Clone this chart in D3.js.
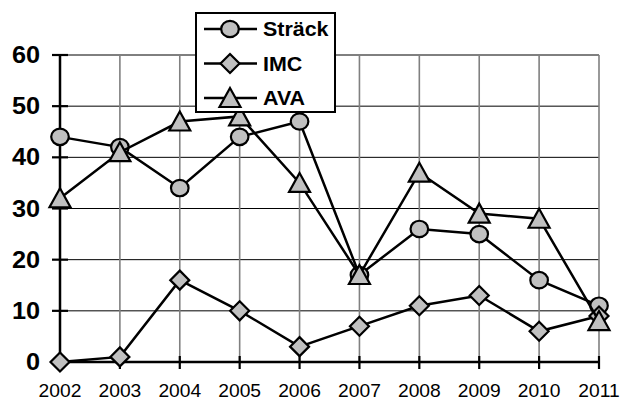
<!DOCTYPE html>
<html><head><meta charset="utf-8">
<script src="https://cdn.jsdelivr.net/npm/d3@7"></script>
<style>body{margin:0;background:#fff}svg{display:block}</style>
</head><body>
<svg id="c" width="620" height="400"></svg>
<script>
const years = ["2002","2003","2004","2005","2006","2007","2008","2009","2010","2011"];
const strack = [44,42,34,44,47,17,26,25,16,11];
const imc = [0,1,16,10,3,7,11,13,6,9];
const ava = [32,41,47,48,35,17,37,29,28,8];
const yTicks = [0,10,20,30,40,50,60];
const seriesNames = ["Sträck","IMC","AVA"];

const svg = d3.select("#c");
const x = d3.scalePoint().domain(years).range([60,599]);
const y = d3.scaleLinear().domain([0,60]).range([362,55]);
const SX = 1.1; // horizontal stretch of the reference

// gridlines
svg.append("g").selectAll("line").data(yTicks.filter(d=>d>0)).join("line")
  .attr("x1",60).attr("x2",599).attr("y1",d=>y(d)).attr("y2",d=>y(d))
  .attr("stroke","#000").attr("stroke-width",1);
svg.append("g").selectAll("line").data(years.slice(1)).join("line")
  .attr("x1",d=>x(d)).attr("x2",d=>x(d)).attr("y1",y(60)).attr("y2",y(0))
  .attr("stroke","#808080").attr("stroke-width",1.6);

// axes
svg.append("line").attr("x1",60).attr("x2",60).attr("y1",y(60)).attr("y2",y(0))
  .attr("stroke","#000").attr("stroke-width",2.5);
svg.append("line").attr("x1",60).attr("x2",599).attr("y1",y(0)).attr("y2",y(0))
  .attr("stroke","#000").attr("stroke-width",2.5);
svg.append("g").selectAll("line").data(yTicks).join("line")
  .attr("x1",52).attr("x2",68).attr("y1",d=>y(d)).attr("y2",d=>y(d))
  .attr("stroke","#000").attr("stroke-width",2.2);
svg.append("g").selectAll("line").data(years).join("line")
  .attr("x1",d=>x(d)).attr("x2",d=>x(d)).attr("y1",y(0)-6).attr("y2",y(0)+7)
  .attr("stroke","#000").attr("stroke-width",2.2);

// axis labels
svg.append("g").selectAll("text").data(yTicks).join("text")
  .attr("transform",d=>`translate(40,${y(d)+8}) scale(${SX},1)`)
  .attr("text-anchor","end").attr("font-family","Liberation Sans, Arial, sans-serif")
  .attr("font-weight","bold").attr("font-size",23).text(d=>d);
svg.append("g").selectAll("text").data(years).join("text")
  .attr("transform",d=>`translate(${x(d)},397) scale(${SX},1)`)
  .attr("text-anchor","middle").attr("font-family","Liberation Sans, Arial, sans-serif")
  .attr("font-size",17.5).text(d=>d);

// markers
const shapes = {
  "Sträck": g=>g.append("ellipse").attr("rx",8.8).attr("ry",8.2),
  "IMC": g=>g.append("path").attr("d","M0,-9.5L9.5,0L0,9.5L-9.5,0Z"),
  "AVA": g=>g.append("path").attr("d","M0,-10L10.5,9L-10.5,9Z")
};
function marker(g,name){
  shapes[name](g).attr("fill","#c0c0c0").attr("stroke","#000").attr("stroke-width",2.2)
    .attr("stroke-linejoin","miter");
}

const data = [strack, imc, ava];
const line = d3.line().x((d,i)=>x(years[i])).y(d=>y(d));
data.forEach((vals,si)=>{
  svg.append("path").datum(vals).attr("d",line).attr("fill","none")
    .attr("stroke","#000").attr("stroke-width",2.5);
  vals.forEach((v,i)=>{
    const g = svg.append("g").attr("transform",`translate(${x(years[i])},${y(v)})`);
    marker(g, seriesNames[si]);
  });
});

// legend
const lg = svg.append("g");
lg.append("rect").attr("x",196).attr("y",13).attr("width",139).attr("height",99)
  .attr("fill","#fff").attr("stroke","#000").attr("stroke-width",2);
const ly = d3.scalePoint().domain(seriesNames).range([29,98]);
seriesNames.forEach(n=>{
  lg.append("line").attr("x1",204).attr("x2",257).attr("y1",ly(n)).attr("y2",ly(n))
    .attr("stroke","#000").attr("stroke-width",2.5);
  const g = lg.append("g").attr("transform",`translate(230,${ly(n)})`);
  marker(g,n);
  lg.append("text").attr("transform",`translate(263,${ly(n)+7}) scale(${SX},1)`)
    .attr("font-family","Liberation Sans, Arial, sans-serif").attr("font-weight","bold")
    .attr("font-size",19.5).text(n);
});
</script>
</body></html>
